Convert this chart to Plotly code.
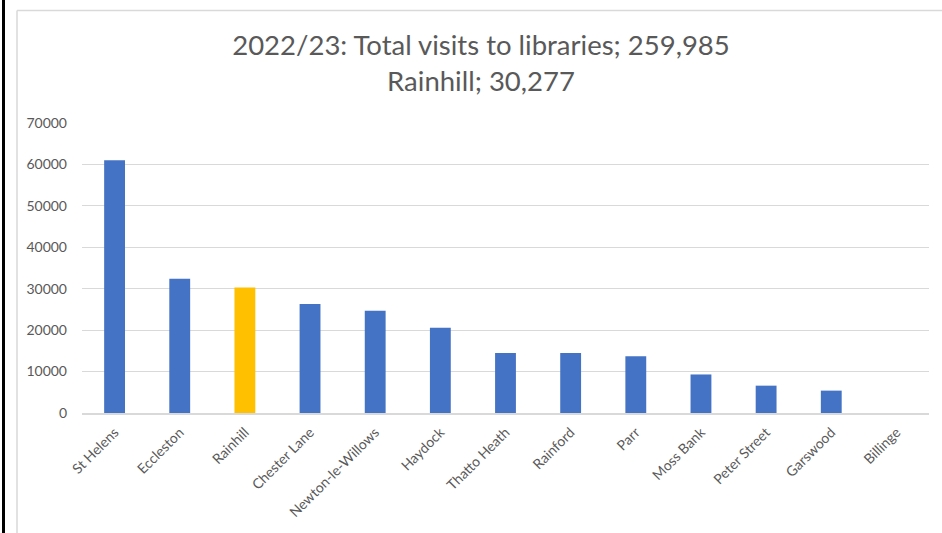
import plotly.graph_objects as go

# values
libraries = ["St Helens", "Eccleston", "Rainhill", "Chester Lane", "Newton-le-Willows",
             "Haydock", "Thatto Heath", "Rainford", "Parr", "Moss Bank",
             "Peter Street", "Garswood", "Billinge"]
visits = [61000, 32400, 30277, 26300, 24700, 20600, 14500, 14500, 13700, 9300, 6600, 5400, 0]
highlight = "Rainhill"

y_ticks = [0, 10000, 20000, 30000, 40000, 50000, 60000, 70000]

BLUE = "#4472C4"
GOLD = "#FFC000"
GREY_TEXT = "#595959"
GRID = "#d9d9d9"

W, H = 942, 533
L, R, T, B = 82, 13, 123, 120
pw, ph = W - L - R, H - T - B


def px_x(p):
    return (p - L) / pw


def px_y(p):
    return (H - B - p) / ph


colors = [GOLD if name == highlight else BLUE for name in libraries]

fig = go.Figure(go.Bar(x=libraries, y=visits, marker=dict(color=colors, line=dict(width=0))))

fig.update_layout(
    width=W, height=H,
    margin=dict(l=L, r=R, t=T, b=B),
    paper_bgcolor="white", plot_bgcolor="white",
    bargap=0.68,
    showlegend=False,
    font=dict(family="Lato, 'Open Sans', sans-serif", color=GREY_TEXT),
    title=dict(
        text="2022/23: Total visits to libraries; 259,985<br>Rainhill; 30,277",
        x=481 / W, xanchor="center", xref="container",
        y=1 - 55 / H, yanchor="middle", yref="container",
        font=dict(size=27.5, color=GREY_TEXT, family="Lato, 'Open Sans', sans-serif"),
    ),
    shapes=[
        # outer black rule at the left edge
        dict(type="line", xref="paper", yref="paper", x0=px_x(3.5), x1=px_x(3.5),
             y0=px_y(H + 5), y1=px_y(-5), line=dict(color="black", width=3)),
        # light chart-area border
        dict(type="line", xref="paper", yref="paper", x0=px_x(17), x1=px_x(17),
             y0=px_y(H + 5), y1=px_y(10.5), line=dict(color=GRID, width=1.5)),
        dict(type="line", xref="paper", yref="paper", x0=px_x(17), x1=px_x(W + 5),
             y0=px_y(10.5), y1=px_y(10.5), line=dict(color=GRID, width=1.5)),
    ],
)

fig.update_xaxes(
    tickangle=-45,
    tickfont=dict(size=14, color=GREY_TEXT),
    showline=True, linecolor=GRID, linewidth=1.5,
    ticks="outside", ticklen=4, tickcolor="rgba(0,0,0,0)", showgrid=False,
)
fig.update_yaxes(
    range=[0, 70000],
    tickvals=y_ticks, ticktext=[str(v) for v in y_ticks],
    tickfont=dict(size=14, color=GREY_TEXT),
    gridcolor=GRID, gridwidth=1,
    zeroline=False, showline=False, ticks="",
    ticklabelstandoff=14,
)

fig.write_html("out.html", config={"displayModeBar": False},
               post_script="document.body.style.margin='0';")
